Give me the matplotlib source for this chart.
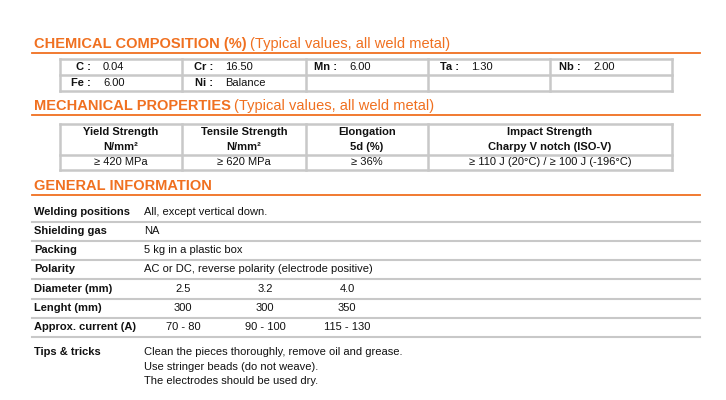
import matplotlib.pyplot as plt

plt.rcParams['font.family'] = ['Liberation Sans', 'DejaVu Sans']

ORANGE = '#f07020'
GREY = '#c8c8c8'
TXT = '#111111'

# chemical composition
chem_labels = [['C :', 'Cr :', 'Mn :', 'Ta :', 'Nb :'], ['Fe :', 'Ni :', '', '', '']]
chem_values = [['0.04', '16.50', '6.00', '1.30', '2.00'], ['6.00', 'Balance', '', '', '']]

# mechanical properties
mech_head1 = ['Yield Strength', 'Tensile Strength', 'Elongation', 'Impact Strength']
mech_head2 = ['N/mm²', 'N/mm²', '5d (%)', 'Charpy V notch (ISO-V)']
mech_values = ['≥ 420 MPa', '≥ 620 MPa', '≥ 36%', '≥ 110 J (20°C) / ≥ 100 J (-196°C)']

# general information
gen_labels = ['Welding positions', 'Shielding gas', 'Packing', 'Polarity']
gen_values = ['All, except vertical down.', 'NA', '5 kg in a plastic box',
              'AC or DC, reverse polarity (electrode positive)']
size_labels = ['Diameter (mm)', 'Lenght (mm)', 'Approx. current (A)']
size_values = [['2.5', '3.2', '4.0'], ['300', '300', '350'], ['70 - 80', '90 - 100', '115 - 130']]
tips = ['Clean the pieces thoroughly, remove oil and grease.',
        'Use stringer beads (do not weave).',
        'The electrodes should be used dry.']

fig = plt.figure(figsize=(7.26, 4.0), dpi=100)
ax = fig.add_axes([0, 0, 1, 1])
ax.set_xlim(0, 726)
ax.set_ylim(400, 0)
ax.axis('off')


def header(y, bold, light):
    t = ax.text(34, y, bold, color=ORANGE, fontsize=10.5, fontweight='bold', va='center')
    fig.canvas.draw()
    bb = t.get_window_extent().transformed(ax.transData.inverted())
    ax.text(bb.x1 + 3, y, light, color=ORANGE, fontsize=10.5, va='center')
    ax.plot([32, 700], [y + 9, y + 9], color=ORANGE, lw=1.3)


cols = [60, 182, 306, 428, 550, 672]

# chemical table
header(44, 'CHEMICAL COMPOSITION (%)', '(Typical values, all weld metal)')
for y in [59, 75, 91]:
    ax.plot([60, 672], [y, y], color=GREY, lw=1.8)
for x in cols:
    ax.plot([x, x], [59, 91], color=GREY, lw=1.8)
for r, y in enumerate([67, 83]):
    for c in range(5):
        if chem_labels[r][c]:
            ax.text(cols[c] + 31, y, chem_labels[r][c], fontsize=8, fontweight='bold',
                    ha='right', va='center', color=TXT)
            ax.text(cols[c] + 43, y, chem_values[r][c], fontsize=8, va='center', color=TXT)

# mechanical table
header(106, 'MECHANICAL PROPERTIES', '(Typical values, all weld metal)')
mcols = [60, 182, 306, 428, 672]
for y in [124, 155, 170]:
    ax.plot([60, 672], [y, y], color=GREY, lw=1.8)
for x in mcols:
    ax.plot([x, x], [124, 170], color=GREY, lw=1.8)
for i in range(4):
    cx = (mcols[i] + mcols[i + 1]) / 2
    ax.text(cx, 132, mech_head1[i], fontsize=8, fontweight='bold', ha='center', va='center', color=TXT)
    ax.text(cx, 147, mech_head2[i], fontsize=8, fontweight='bold', ha='center', va='center', color=TXT)
    ax.text(cx, 162, mech_values[i], fontsize=8, ha='center', va='center', color=TXT)

# general info
header(186, 'GENERAL INFORMATION', '')
row_y = [212, 231, 250, 269, 289, 308, 327]
for y in row_y:
    ax.plot([32, 700], [y + 10, y + 10], color=GREY, lw=1.5)
for i, lab in enumerate(gen_labels):
    ax.text(34, row_y[i], lab, fontsize=8, fontweight='bold', va='center', color=TXT)
    ax.text(144, row_y[i], gen_values[i], fontsize=8, va='center', color=TXT)
for i, lab in enumerate(size_labels):
    y = row_y[4 + i]
    ax.text(34, y, lab, fontsize=8, fontweight='bold', va='center', color=TXT)
    for j, cx in enumerate([183, 265, 347]):
        ax.text(cx, y, size_values[i][j], fontsize=8, ha='center', va='center', color=TXT)

ax.text(34, 352, 'Tips & tricks', fontsize=8, fontweight='bold', va='center', color=TXT)
for i, line in enumerate(tips):
    ax.text(144, 352 + i * 14.5, line, fontsize=8, va='center', color=TXT)

fig.savefig('out.png', dpi=100, facecolor='white')
